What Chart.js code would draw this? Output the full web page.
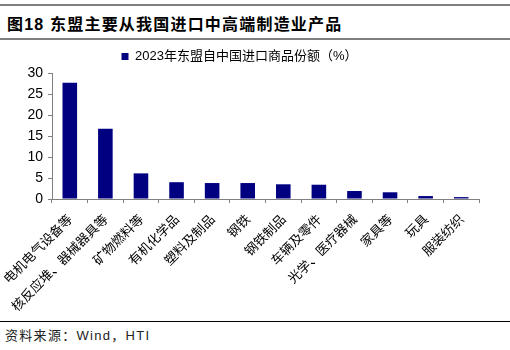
<!DOCTYPE html>
<html>
<head>
<meta charset="utf-8">
<script src="https://cdn.jsdelivr.net/npm/chart.js"></script>
<style>
    body {
        margin: 0;
        width: 510px;
        height: 350px;
        background: #fff;
        position: relative;
        overflow: hidden;
        font-family: "Liberation Sans", "Noto Sans CJK SC", sans-serif;
        color: #000;
    }
    .rule { position: absolute; left: 0; width: 510px; }
    #title { position: absolute; left: 7px; top: 11px; font-size: 16px; font-weight: bold; letter-spacing: 1.2px; }
    #wrap { position: absolute; left: 0; top: 40px; width: 510px; height: 280px; }
    #src { position: absolute; left: 5px; top: 325px; font-size: 13px; color: #222; letter-spacing: 1.3px; }
</style>
</head>
<body>
<div class="rule" style="top:4px;height:2px;background:#7f7f7f"></div>
<div id="title">图18 东盟主要从我国进口中高端制造业产品</div>
<div class="rule" style="top:38px;height:2px;background:#7f7f7f"></div>
<div id="wrap"><canvas id="chart" width="510" height="280"></canvas></div>
<div class="rule" style="top:321px;height:1px;background:#000"></div>
<div id="src">资料来源：Wind，HTI</div>

<script>
// 数据
const categories = ['电机电气设备等', '核反应堆、器械器具等', '矿物燃料等', '有机化学品', '塑料及制品', '钢铁',
    '钢铁制品', '车辆及零件', '光学、医疗器械', '家具等', '玩具', '服装纺织'];
const shareValues = [27.7, 16.7, 6.1, 4.0, 3.8, 3.8, 3.5, 3.4, 1.9, 1.6, 0.7, 0.45];
const seriesLabel = '2023年东盟自中国进口商品份额（%）';
const yMin = 0;
const yMax = 30;
const yStep = 5;

const AXIS_COLOR = '#808080';
const BAR_COLOR = '#000080';

new Chart(document.getElementById('chart'), {
    type: 'bar',
    data: {
        labels: categories,
        datasets: [{
            label: seriesLabel,
            data: shareValues,
            backgroundColor: BAR_COLOR,
            borderWidth: 0,
            categoryPercentage: 1,
            barPercentage: 0.41
        }]
    },
    options: {
        responsive: false,
        animation: false,
        layout: {
            padding: {left: 0, right: 31, top: 2, bottom: 0}
        },
        plugins: {
            tooltip: {enabled: false},
            legend: {
                display: true,
                position: 'top',
                labels: {
                    boxWidth: 7,
                    boxHeight: 7,
                    padding: 8,
                    color: '#000',
                    font: {family: '"Liberation Sans", "Noto Sans CJK SC"', size: 13}
                }
            }
        },
        scales: {
            x: {
                grid: {
                    display: true,
                    drawOnChartArea: false,
                    drawTicks: true,
                    tickLength: 4,
                    color: AXIS_COLOR,
                    offset: true
                },
                border: {color: AXIS_COLOR, width: 1},
                ticks: {
                    autoSkip: false,
                    minRotation: 45,
                    maxRotation: 45,
                    padding: 8,
                    color: '#000',
                    font: {family: '"Noto Sans CJK SC"', size: 13}
                },
                afterFit: (scale) => {
                    scale.height = 121;
                    // 旋转标签可以伸出绘图区，不让它挤动 y 轴
                    scale.paddingLeft = 0;
                    scale.paddingRight = 0;
                }
            },
            y: {
                min: yMin,
                max: yMax,
                grid: {
                    display: true,
                    drawOnChartArea: false,
                    drawTicks: true,
                    tickLength: 4,
                    color: AXIS_COLOR
                },
                border: {color: AXIS_COLOR, width: 1},
                ticks: {
                    stepSize: yStep,
                    padding: 5,
                    color: '#000',
                    font: {family: '"Liberation Sans"', size: 14}
                },
                afterFit: (scale) => { scale.width = 52; }
            }
        }
    }
});
</script>
</body>
</html>
